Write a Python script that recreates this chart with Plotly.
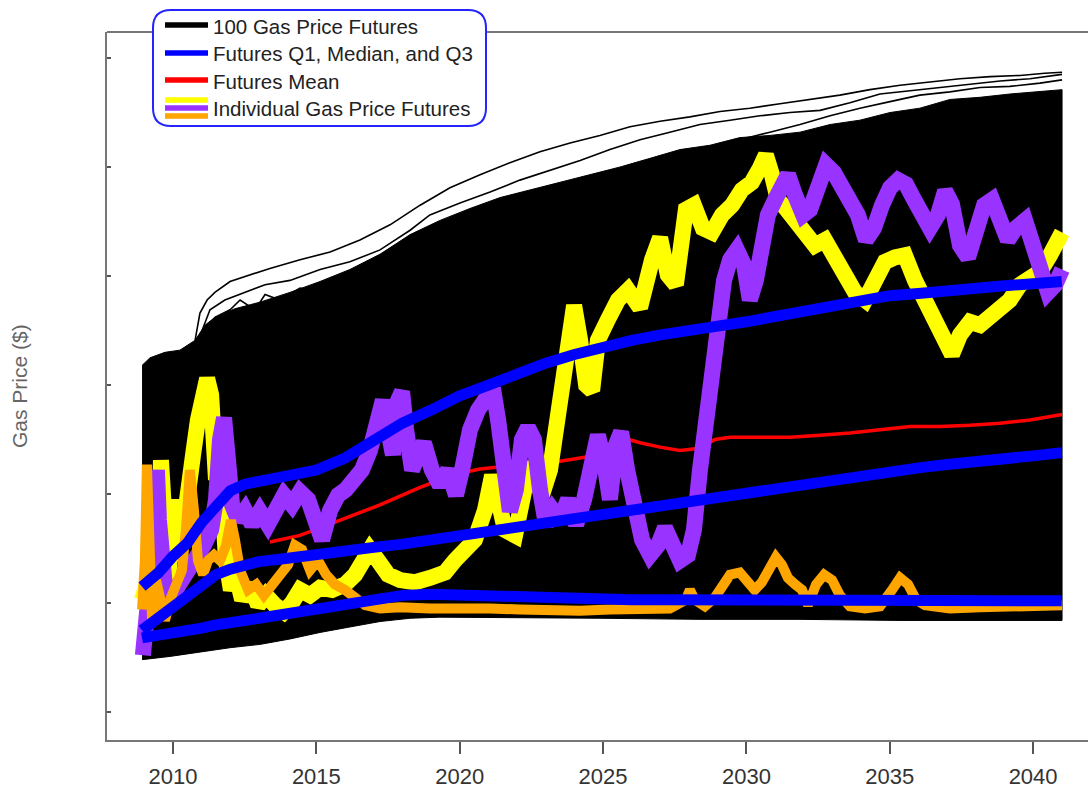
import plotly.graph_objects as go

# ---------------------------------------------------------------------------
# Data (years on x, price in $ on y)
# ---------------------------------------------------------------------------

# Envelope of the 100 simulated futures (upper jagged edge, lower edge)
band_top_years = [2008.92, 2009.20, 2009.72, 2010.24, 2010.77, 2011.12, 2011.46, 2012.16, 2013.03,
                  2014.08, 2015.13, 2016.17, 2017.22, 2018.27, 2019.31, 2020.36, 2021.41, 2022.45,
                  2023.50, 2024.54, 2025.59, 2026.64, 2027.68, 2028.73, 2029.77, 2030.82, 2031.87,
                  2032.92, 2033.96, 2035.01, 2036.05, 2037.10, 2038.15, 2039.19, 2040.24, 2041.01]
band_top_values = [4.18, 4.25, 4.30, 4.32, 4.41, 4.55, 4.62, 4.70, 4.76,
                   4.85, 4.95, 5.06, 5.20, 5.38, 5.51, 5.62, 5.72, 5.79,
                   5.86, 5.93, 6.00, 6.08, 6.16, 6.20, 6.27, 6.29, 6.32,
                   6.39, 6.43, 6.50, 6.54, 6.62, 6.64, 6.67, 6.69, 6.71]
band_low_years = [2008.92, 2009.90, 2010.94, 2011.99, 2013.03, 2014.08, 2015.13, 2016.17, 2017.22,
                  2018.27, 2019.31, 2021.41, 2024.89, 2028.38, 2031.87, 2035.36, 2038.85, 2041.01]
band_low_values = [1.48, 1.51, 1.55, 1.59, 1.62, 1.67, 1.73, 1.78, 1.83,
                   1.86, 1.87, 1.87, 1.86, 1.85, 1.85, 1.84, 1.84, 1.84]

# A few individual futures running along the top of the bundle
outer1_years = [2010.77, 2010.94, 2011.19, 2011.46, 2011.99, 2012.69, 2013.38, 2014.43, 2015.48,
                2016.52, 2017.57, 2018.62, 2019.66, 2020.71, 2021.75, 2022.80, 2023.85, 2024.89,
                2025.94, 2026.99, 2028.03, 2029.08, 2030.12, 2031.17, 2032.22, 2033.26, 2034.31,
                2035.36, 2036.40, 2037.45, 2038.50, 2039.54, 2040.41, 2041.01]
outer1_values = [4.41, 4.66, 4.78, 4.85, 4.95, 5.01, 5.07, 5.15, 5.22,
                 5.33, 5.47, 5.65, 5.81, 5.93, 6.04, 6.14, 6.22, 6.29,
                 6.37, 6.42, 6.46, 6.51, 6.54, 6.58, 6.62, 6.66, 6.71,
                 6.75, 6.78, 6.81, 6.83, 6.84, 6.86, 6.87]
outer2_years = [2010.94, 2011.29, 2011.81, 2012.51, 2013.21, 2014.08, 2015.13, 2016.17, 2017.22,
                2018.27, 2018.96, 2020.01, 2021.06, 2022.10, 2023.15, 2024.20, 2025.24, 2026.29,
                2027.33, 2028.38, 2029.43, 2030.47, 2031.52, 2032.57, 2033.61, 2034.66, 2035.71,
                2036.75, 2037.80, 2038.85, 2039.89, 2041.01]
outer2_values = [4.45, 4.69, 4.78, 4.85, 4.92, 4.96, 5.06, 5.13, 5.24,
                 5.42, 5.56, 5.67, 5.77, 5.88, 5.97, 6.06, 6.16, 6.25,
                 6.32, 6.39, 6.43, 6.47, 6.50, 6.52, 6.59, 6.67, 6.70,
                 6.73, 6.76, 6.79, 6.81, 6.85]
outer3_years = [2011.12, 2011.46, 2011.99, 2012.34, 2012.86, 2013.21, 2013.73, 2014.43, 2015.13,
                2015.82, 2016.52, 2017.04, 2017.74, 2018.27, 2018.79, 2019.49, 2020.36, 2021.41,
                2022.45, 2023.50, 2024.54, 2025.59, 2026.64, 2027.68, 2028.73, 2029.77, 2030.82,
                2031.87, 2032.92, 2033.96, 2035.01, 2036.05, 2037.10, 2038.15, 2039.19, 2040.24,
                2041.01]
outer3_values = [4.51, 4.62, 4.69, 4.78, 4.69, 4.83, 4.78, 4.89, 4.85,
                 4.98, 5.06, 5.01, 5.19, 5.33, 5.28, 5.47, 5.56, 5.65,
                 5.72, 5.79, 5.86, 5.93, 5.99, 6.08, 6.16, 6.25, 6.32,
                 6.39, 6.47, 6.54, 6.60, 6.66, 6.69, 6.73, 6.74, 6.77,
                 6.80]

# Quartiles of the futures
stat_years = [2008.92, 2009.5, 2010, 2010.5, 2011, 2011.5, 2012, 2012.5, 2013, 2014, 2015, 2016,
              2017, 2018, 2019, 2020, 2021, 2022, 2023, 2024, 2025, 2026, 2027, 2028, 2029,
              2030, 2031, 2032, 2033, 2034, 2035, 2036, 2037, 2038, 2039, 2040, 2041]
q3_values = [2.15, 2.28, 2.43, 2.55, 2.74, 2.89, 3.03, 3.09, 3.12, 3.16, 3.22, 3.33,
             3.50, 3.65, 3.77, 3.90, 4.00, 4.11, 4.20, 4.28, 4.35, 4.41, 4.46, 4.51, 4.54,
             4.58, 4.63, 4.69, 4.74, 4.78, 4.82, 4.84, 4.87, 4.89, 4.91, 4.93, 4.95]
median_values = [1.75, 1.86, 1.95, 2.06, 2.17, 2.26, 2.31, 2.35, 2.38, 2.41, 2.45, 2.48,
                 2.51, 2.54, 2.58, 2.62, 2.65, 2.69, 2.73, 2.77, 2.82, 2.85, 2.90, 2.94, 2.97,
                 3.01, 3.05, 3.08, 3.13, 3.17, 3.20, 3.24, 3.27, 3.29, 3.32, 3.35, 3.38]
q1_values = [1.68, 1.70, 1.72, 1.74, 1.77, 1.80, 1.83, 1.84, 1.86, 1.90, 1.94, 1.99,
             2.04, 2.07, 2.08, 2.07, 2.06, 2.06, 2.05, 2.04, 2.04, 2.03, 2.03, 2.03, 2.03,
             2.03, 2.02, 2.02, 2.02, 2.02, 2.02, 2.02, 2.02, 2.02, 2.02, 2.02, 2.02]

# Mean of the futures
mean_years = [2013.38, 2013.73, 2014.43, 2015.13, 2015.82, 2016.52, 2017.22, 2017.92, 2018.62,
              2019.31, 2020.01, 2020.71, 2021.41, 2022.10, 2022.80, 2023.50, 2024.20, 2024.89,
              2025.42, 2025.77, 2026.29, 2026.99, 2027.68, 2028.38, 2028.90, 2029.43, 2030.47,
              2031.52, 2032.57, 2033.61, 2034.66, 2035.71, 2036.75, 2037.80, 2038.85, 2039.89,
              2041.01]
mean_values = [2.56, 2.58, 2.62, 2.69, 2.76, 2.83, 2.90, 2.98, 3.06,
               3.13, 3.19, 3.23, 3.25, 3.27, 3.28, 3.30, 3.33, 3.36,
               3.43, 3.51, 3.47, 3.43, 3.40, 3.42, 3.50, 3.52, 3.52,
               3.52, 3.54, 3.56, 3.59, 3.62, 3.62, 3.63, 3.65, 3.68,
               3.73]

# Three individual futures
yellow_years = [2008.92, 2009.09, 2009.27, 2009.48, 2009.58, 2009.72, 2009.83, 2010.03, 2010.17,
                2010.35, 2010.52, 2010.70, 2010.87, 2011.05, 2011.19, 2011.33, 2011.43, 2011.50,
                2011.60, 2011.71, 2011.85, 2012.02, 2012.20, 2012.41, 2012.69, 2012.97, 2013.24,
                2013.56, 2013.87, 2014.15, 2014.43, 2014.78, 2015.13, 2015.55, 2016.00, 2016.35,
                2016.59, 2016.87, 2017.15, 2017.50, 2017.92, 2018.44, 2018.96, 2019.49, 2019.83,
                2020.18, 2020.53, 2020.88, 2021.13, 2021.34, 2021.58, 2021.93, 2022.17, 2022.45,
                2022.66, 2022.87, 2023.15, 2023.43, 2023.71, 2023.99, 2024.20, 2024.41, 2024.62,
                2024.82, 2025.17, 2025.52, 2025.87, 2026.29, 2026.71, 2026.99, 2027.26, 2027.54,
                2027.89, 2028.17, 2028.48, 2028.80, 2029.15, 2029.50, 2029.84, 2030.19, 2030.47,
                2030.68, 2030.89, 2031.10, 2031.38, 2031.70, 2032.04, 2032.39, 2032.74, 2033.09,
                2033.44, 2033.79, 2034.14, 2034.49, 2034.83, 2035.18, 2035.53, 2035.88, 2036.23,
                2036.58, 2036.93, 2037.17, 2037.45, 2037.80, 2038.15, 2038.50, 2038.85, 2039.19,
                2039.54, 2039.89, 2040.24, 2040.59, 2041.01]
yellow_values = [2.03, 2.17, 2.03, 2.39, 3.31, 2.76, 2.21, 2.95, 2.39,
                 2.67, 3.13, 3.36, 3.68, 4.00, 4.06, 3.91, 3.40, 3.13,
                 3.50, 2.95, 2.39, 2.12, 2.26, 2.03, 2.17, 1.98, 2.07,
                 1.98, 1.92, 2.00, 2.12, 2.07, 2.14, 2.12, 2.17, 2.26,
                 2.39, 2.49, 2.39, 2.26, 2.21, 2.19, 2.23, 2.28, 2.39,
                 2.47, 2.58, 2.85, 3.17, 2.95, 2.67, 2.62, 2.95, 3.29,
                 3.13, 2.99, 3.22, 3.68, 4.23, 4.73, 4.41, 4.00, 3.95,
                 4.41, 4.60, 4.78, 4.87, 4.71, 5.15, 5.35, 5.01, 4.92,
                 5.61, 5.65, 5.44, 5.40, 5.56, 5.65, 5.79, 5.86, 5.99,
                 6.11, 5.93, 5.70, 5.62, 5.51, 5.42, 5.28, 5.33, 5.15,
                 5.01, 4.85, 4.78, 4.98, 5.13, 5.17, 5.19, 4.96, 4.78,
                 4.60, 4.34, 4.28, 4.46, 4.58, 4.55, 4.62, 4.73, 4.78,
                 4.92, 5.00, 5.04, 5.19, 5.40]

purple_years = [2008.95, 2009.06, 2009.16, 2009.27, 2009.37, 2009.44, 2009.51, 2009.62, 2009.76,
                2009.97, 2010.24, 2010.52, 2010.80, 2011.08, 2011.33, 2011.50, 2011.64, 2011.78,
                2011.92, 2012.06, 2012.27, 2012.51, 2012.76, 2013.03, 2013.31, 2013.59, 2013.87,
                2014.15, 2014.43, 2014.71, 2014.99, 2015.20, 2015.48, 2015.76, 2016.03, 2016.31,
                2016.59, 2016.87, 2017.15, 2017.32, 2017.50, 2017.67, 2017.85, 2017.99, 2018.13,
                2018.34, 2018.55, 2018.75, 2019.03, 2019.31, 2019.59, 2019.87, 2020.08, 2020.36,
                2020.64, 2020.92, 2021.16, 2021.34, 2021.55, 2021.75, 2021.96, 2022.17, 2022.38,
                2022.59, 2022.80, 2023.01, 2023.25, 2023.50, 2023.78, 2024.06, 2024.34, 2024.62,
                2024.82, 2025.03, 2025.24, 2025.45, 2025.63, 2025.84, 2026.08, 2026.36, 2026.64,
                2026.92, 2027.16, 2027.40, 2027.68, 2027.96, 2028.17, 2028.38, 2028.59, 2028.80,
                2029.01, 2029.22, 2029.43, 2029.67, 2029.92, 2030.12, 2030.33, 2030.54, 2030.75,
                2031.00, 2031.24, 2031.45, 2031.70, 2031.98, 2032.22, 2032.50, 2032.78, 2033.05,
                2033.33, 2033.61, 2033.89, 2034.17, 2034.45, 2034.73, 2035.01, 2035.29, 2035.57,
                2035.85, 2036.12, 2036.40, 2036.68, 2036.93, 2037.17, 2037.45, 2037.73, 2038.01,
                2038.29, 2038.57, 2038.85, 2039.12, 2039.40, 2039.72, 2040.00, 2040.28, 2040.52,
                2040.77, 2041.01]
purple_values = [1.52, 1.75, 2.03, 2.39, 2.95, 3.22, 2.76, 2.21, 2.03,
                 2.07, 2.17, 2.26, 2.39, 2.53, 2.67, 2.95, 3.50, 3.70,
                 3.31, 2.90, 2.76, 2.85, 2.72, 2.84, 2.72, 2.85, 2.99,
                 2.90, 3.02, 2.95, 2.72, 2.58, 2.85, 2.99, 3.04, 3.13,
                 3.22, 3.40, 3.68, 3.86, 3.59, 3.36, 3.86, 3.94, 3.59,
                 3.22, 3.36, 3.47, 3.22, 3.08, 3.22, 2.99, 3.22, 3.59,
                 3.77, 3.86, 3.97, 3.68, 3.13, 2.84, 3.04, 3.50, 3.61,
                 3.50, 3.04, 2.72, 2.85, 2.76, 2.95, 2.72, 2.95, 3.40,
                 3.54, 3.31, 2.95, 3.45, 3.57, 3.22, 2.85, 2.58, 2.44,
                 2.53, 2.69, 2.58, 2.39, 2.44, 2.67, 3.22, 3.68, 4.14,
                 4.60, 4.96, 5.15, 5.24, 5.10, 4.78, 4.96, 5.33, 5.56,
                 5.70, 5.88, 5.93, 5.74, 5.56, 5.61, 5.88, 6.02, 5.95,
                 5.81, 5.74, 5.56, 5.33, 5.44, 5.65, 5.81, 5.88, 5.84,
                 5.70, 5.59, 5.44, 5.56, 5.78, 5.66, 5.28, 5.17, 5.38,
                 5.65, 5.70, 5.53, 5.33, 5.44, 5.51, 5.28, 5.01, 4.85,
                 4.92, 5.06]

orange_years = [2008.92, 2009.02, 2009.09, 2009.16, 2009.27, 2009.41, 2009.55, 2009.72, 2009.90,
                2010.10, 2010.31, 2010.45, 2010.59, 2010.73, 2010.87, 2011.05, 2011.22, 2011.43,
                2011.64, 2011.85, 2012.02, 2012.16, 2012.34, 2012.62, 2012.90, 2013.17, 2013.45,
                2013.73, 2014.01, 2014.25, 2014.50, 2014.78, 2015.06, 2015.34, 2015.65, 2016.00,
                2016.35, 2016.70, 2017.22, 2017.92, 2018.96, 2020.01, 2021.06, 2022.10, 2023.15,
                2024.20, 2025.24, 2026.29, 2027.33, 2027.89, 2028.03, 2028.20, 2028.55, 2028.90,
                2029.15, 2029.43, 2029.77, 2030.05, 2030.29, 2030.54, 2030.82, 2031.03, 2031.24,
                2031.45, 2031.70, 2031.94, 2032.15, 2032.43, 2032.71, 2032.99, 2033.26, 2033.61,
                2034.14, 2034.66, 2035.08, 2035.36, 2035.64, 2035.92, 2036.23, 2037.10, 2038.15,
                2039.19, 2040.24, 2041.01]
orange_values = [1.94, 2.39, 3.27, 2.58, 1.84, 2.21, 2.03, 1.84, 2.03,
                 2.17, 2.30, 2.67, 3.22, 2.85, 2.39, 2.26, 2.39, 2.44,
                 2.39, 2.53, 2.76, 2.58, 2.30, 2.12, 2.17, 2.07, 2.17,
                 2.26, 2.35, 2.53, 2.49, 2.30, 2.39, 2.26, 2.17, 2.12,
                 2.05, 1.98, 1.95, 1.96, 1.95, 1.96, 1.95, 1.94, 1.93,
                 1.93, 1.94, 1.95, 1.95, 2.03, 2.12, 2.03, 1.97, 2.05,
                 2.17, 2.26, 2.28, 2.19, 2.12, 2.19, 2.35, 2.42, 2.35,
                 2.23, 2.17, 2.12, 1.98, 2.17, 2.26, 2.21, 2.07, 1.97,
                 1.95, 1.97, 2.12, 2.23, 2.17, 2.03, 1.98, 1.95, 1.96,
                 1.96, 1.97, 1.98]

x_tick_values = [2010, 2015, 2020, 2025, 2030, 2035, 2040]
y_tick_values = [1, 2, 3, 4, 5, 6, 7]

legend_labels = ["100 Gas Price Futures", "Futures Q1, Median, and Q3",
                 "Futures Mean", "Individual Gas Price Futures"]

# ---------------------------------------------------------------------------
# Figure
# ---------------------------------------------------------------------------
BLACK = "#000000"
BLUE = "#0000ff"
RED = "#ff0000"
YELLOW = "#ffff00"
PURPLE = "#9933ff"
ORANGE = "#ffa500"

fig = go.Figure()

# Dense bundle of futures as a filled envelope
poly_x = band_top_years + band_low_years[::-1]
poly_y = band_top_values + band_low_values[::-1]
fig.add_trace(go.Scatter(x=poly_x, y=poly_y, fill="toself", fillcolor=BLACK,
                         mode="lines", line=dict(color=BLACK, width=1)))

for xs, ys in [(outer1_years, outer1_values), (outer2_years, outer2_values),
               (outer3_years, outer3_values)]:
    fig.add_trace(go.Scatter(x=xs, y=ys, mode="lines",
                             line=dict(color=BLACK, width=1.6)))

# Mean
fig.add_trace(go.Scatter(x=mean_years, y=mean_values, mode="lines",
                         line=dict(color=RED, width=3.5)))

# Individual futures
fig.add_trace(go.Scatter(x=yellow_years, y=yellow_values, mode="lines",
                         line=dict(color=YELLOW, width=16)))
fig.add_trace(go.Scatter(x=purple_years, y=purple_values, mode="lines",
                         line=dict(color=PURPLE, width=16)))
fig.add_trace(go.Scatter(x=orange_years, y=orange_values, mode="lines",
                         line=dict(color=ORANGE, width=10)))

# Quartiles on top
for vals in (q1_values, median_values, q3_values):
    fig.add_trace(go.Scatter(x=stat_years, y=vals, mode="lines",
                             line=dict(color=BLUE, width=11)))

# ---------------------------------------------------------------------------
# Layout
# ---------------------------------------------------------------------------
W, H = 1088, 790
ML, MR, MT, MB = 107, 0, 32, 50
PW, PH = W - ML - MR, H - MT - MB


def px_x(px):
    return (px - ML) / PW


def px_y(py):
    return (H - MB - py) / PH


shapes = []
# top border of the axes box
shapes.append(dict(type="line", xref="paper", yref="paper", x0=0, x1=1, y0=1, y1=1,
                   line=dict(color="#777777", width=2), layer="above"))

# legend box with rounded corners
lx0, lx1, ly0, ly1 = px_x(153), px_x(486), px_y(126), px_y(10)
rx, ry = 18 / PW, 18 / PH
path = (f"M {lx0 + rx},{ly1} L {lx1 - rx},{ly1} Q {lx1},{ly1} {lx1},{ly1 - ry} "
        f"L {lx1},{ly0 + ry} Q {lx1},{ly0} {lx1 - rx},{ly0} "
        f"L {lx0 + rx},{ly0} Q {lx0},{ly0} {lx0},{ly0 + ry} "
        f"L {lx0},{ly1 - ry} Q {lx0},{ly1} {lx0 + rx},{ly1} Z")
shapes.append(dict(type="path", xref="paper", yref="paper", path=path,
                   fillcolor="white", line=dict(color="#2424ff", width=2), layer="above"))

legend_swatches = [(25, BLACK), (53, BLUE), (80, RED), (100, YELLOW), (108, PURPLE), (116, ORANGE)]
for py, col in legend_swatches:
    shapes.append(dict(type="line", xref="paper", yref="paper",
                       x0=px_x(165), x1=px_x(208), y0=px_y(py), y1=px_y(py),
                       line=dict(color=col, width=5.5), layer="above"))

annotations = []
for py, label in zip([26, 53, 81, 108], legend_labels):
    annotations.append(dict(xref="paper", yref="paper", x=px_x(211), y=px_y(py),
                            text=label, showarrow=False, xanchor="left", yanchor="middle",
                            font=dict(family="Liberation Sans, Arial, sans-serif",
                                      size=20.5, color="#222222")))

annotations.append(dict(xref="paper", yref="paper", x=px_x(19), y=0.5,
                        text="Gas Price ($)", textangle=-90, showarrow=False,
                        xanchor="center", yanchor="middle",
                        font=dict(family="Liberation Sans, Arial, sans-serif",
                                  size=21, color="#666666")))

fig.update_layout(
    width=W, height=H,
    margin=dict(l=ML, r=MR, t=MT, b=MB, pad=0, autoexpand=False),
    paper_bgcolor="white", plot_bgcolor="white",
    showlegend=False, hovermode=False,
    shapes=shapes, annotations=annotations,
    xaxis=dict(range=[2007.698, 2041.915], tickvals=x_tick_values,
               automargin=False,
               showgrid=False, zeroline=False,
               showline=True, linecolor="#777777", linewidth=2,
               ticks="outside", ticklen=12, tickwidth=1.5, tickcolor="#555555",
               ticklabelstandoff=4,
               tickfont=dict(family="Liberation Sans, Arial, sans-serif", size=22,
                             color="#333333")),
    yaxis=dict(range=[0.743, 7.239], tickvals=y_tick_values, showticklabels=False,
               automargin=False,
               showgrid=False, zeroline=False,
               showline=True, linecolor="#777777", linewidth=2,
               ticks="inside", ticklen=4, tickwidth=1.5, tickcolor="#555555"),
)

fig.write_html("out.html")
